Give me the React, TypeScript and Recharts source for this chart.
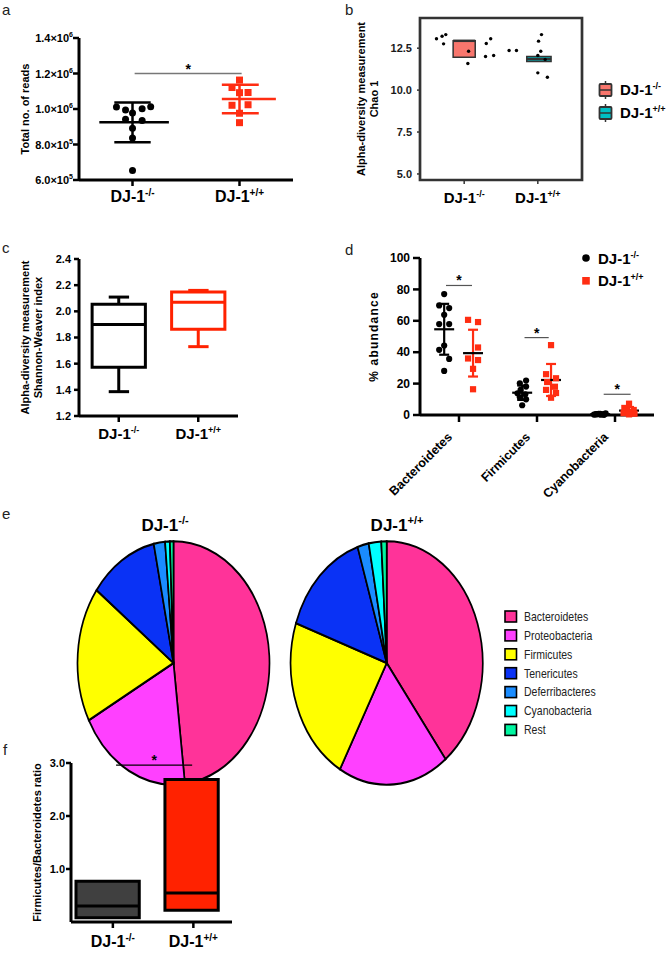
import React from 'react';
import {
  ScatterChart, Scatter, XAxis, YAxis, ReferenceLine, ReferenceArea, PieChart, Pie, Cell, Label,
} from 'recharts';

const FONT = '"Liberation Sans", Arial, Helvetica, sans-serif';
const RED = '#FF2D12';

// ---------- shared categories ----------
const genoPos = [1, 2];
const genoBase = ['DJ-1', 'DJ-1'];
const genoSup = ['-/-', '+/+'];

// ---------- panel a: total reads ----------
const readsKO = [1.011e6, 0.994e6, 0.978e6, 1.002e6, 1.013e6, 0.942e6, 0.935e6, 0.892e6, 0.837e6, 0.654e6];
const readsKOJitter = [-0.15, -0.065, 0, 0.09, 0.17, -0.065, 0.09, 0, 0, 0];
const readsWT = [1.163e6, 1.121e6, 1.092e6, 1.093e6, 1.021e6, 1.024e6, 0.976e6, 0.923e6];
const readsWTJitter = [0, -0.07, 0, 0.08, -0.07, 0.08, 0, 0];
const readsMean = [0.925e6, 1.056e6];
const readsSD = [0.112e6, 0.08e6];
const readsTicks = [6e5, 8e5, 1e6, 1.2e6, 1.4e6];
const readsSig = { x1: 1.02, x2: 2.02, y: 1.2e6 };

// ---------- panel b: Chao1 ----------
const chaoKO = [13.06, 13.21, 13.31, 12.76, 12.32, 11.59, 12.78, 13.06, 12.0, 12.06];
const chaoKOJitter = [-0.376, -0.3, -0.25, -0.28, 0.06, 0.05, 0.3, 0.36, 0.29, 0.4];
const chaoWT = [12.36, 12.36, 12.92, 13.31, 12.32, 12.06, 11.83, 11.03, 10.77];
const chaoWTJitter = [-0.39, -0.29, 0.01, 0.05, 0.04, 0.0, 0.1, 0.0, 0.13];
const chaoQ1 = [11.96, 11.71];
const chaoMedian = [12.94, 11.85];
const chaoQ3 = [12.94, 12.0];
const chaoTicks = [5, 7.5, 10, 12.5];
const chaoColors = ['#F8766D', '#00BFC4'];

// ---------- panel c: Shannon ----------
const shannonMin = [1.386, 1.73];
const shannonQ1 = [1.572, 1.864];
const shannonMedian = [1.9, 2.07];
const shannonQ3 = [2.055, 2.147];
const shannonMax = [2.109, 2.16];
const shannonTicks = [1.2, 1.4, 1.6, 1.8, 2.0, 2.2, 2.4];

// ---------- panel d: % abundance ----------
const phylaPos = [1, 2, 3];
const phylaLabels = ['Bacteroidetes', 'Firmicutes', 'Cyanobacteria'];
const abundKO = [
  [77.0, 69.8, 68.1, 63.8, 57.9, 57.9, 44.2, 41.5, 35.7, 28.1],
  [21.9, 20.2, 18.1, 16.0, 13.8, 13.2, 11.3, 10.0, 6.2],
  [0.3, 0.5, 0.8, 0.2, 0.6, 1.0, 0.4, 0.7, 0.1, 0.5],
];
const abundKOJitter = [
  [0, -0.064, 0.064, 0, -0.064, 0.064, 0, -0.064, 0.064, 0],
  [0.05, -0.03, 0.05, -0.02, -0.06, 0.04, -0.03, 0.05, 0],
  [-0.08, -0.05, -0.02, 0.01, 0.04, 0.07, -0.06, 0.0, 0.05, -0.03],
];
const abundWT = [
  [60.6, 59.2, 43.0, 36.0, 35.0, 29.4, 16.4],
  [44.5, 26.0, 23.4, 21.0, 18.0, 16.0, 14.0, 11.0],
  [7.2, 4.5, 3.2, 2.5, 1.8, 1.2, 0.8, 0.4],
];
const abundWTJitter = [
  [-0.064, 0.064, 0.064, -0.064, 0.064, 0, 0],
  [0, -0.064, 0.064, -0.05, 0.05, -0.064, 0.064, 0],
  [0, -0.06, 0.06, -0.03, 0.03, -0.07, 0.07, 0],
];
const abundMeanKO = [54.6, 14.2, 0.5];
const abundSdKO = [16.2, 4.6, 0.4];
const abundMeanWT = [39.4, 22.3, 2.8];
const abundSdWT = [14.9, 10.2, 2.3];
const abundSig = [
  { x1: 0.833, x2: 1.167, y: 82.5 },
  { x1: 1.84, x2: 2.15, y: 49.3 },
  { x1: 2.855, x2: 3.2, y: 13.2 },
];
const abundTicks = [0, 20, 40, 60, 80, 100];

// ---------- panel e: pies ----------
const pieNames = ['Bacteroidetes', 'Proteobacteria', 'Firmicutes', 'Tenericutes', 'Deferribacteres', 'Cyanobacteria', 'Rest'];
const pieColors = ['#FF3399', '#FF40FF', '#FFFF00', '#0A32F5', '#1A8CFF', '#00FFFF', '#00F5A0'];
const pieKO = [48.1, 19.1, 18.0, 11.5, 1.9, 0.8, 0.6];
const pieWT = [39.5, 18.6, 22.2, 14.8, 1.9, 2.1, 0.9];

// ---------- panel f: F/B ratio ----------
const ratioQ1 = [0.08, 0.22];
const ratioMedian = [0.3, 0.545];
const ratioQ3 = [0.77, 2.69];
const ratioTicks = [1, 2, 3];
const ratioColors = ['#404040', '#FF2200'];
const ratioSig = { x1: 1.04, x2: 1.985, y: 2.96 };

// ---------- helpers ----------
function GenoText({ x, y, i, fs, anchor = 'middle' }: any) {
  return (
    <text x={x} y={y} textAnchor={anchor} fontFamily={FONT} fontWeight="bold" fontSize={fs} fill="#000">
      {genoBase[i]}
      <tspan fontSize={Math.round(fs * 0.62)} dy={-Math.round(fs * 0.4)}>{genoSup[i]}</tspan>
    </text>
  );
}

const genoTick = (fs: number, dy: number) => (props: any) => {
  const i = genoPos.indexOf(props.payload?.value);
  if (i < 0) return <g />;
  return <GenoText x={props.x} y={props.y + dy} i={i} fs={fs} />;
};

const readsTick = (props: any) => {
  const v = props.payload?.value;
  const e = Math.floor(Math.log10(v) + 1e-9);
  const m = (v / Math.pow(10, e)).toFixed(1);
  return (
    <text x={props.x} y={props.y + 4} textAnchor="end" fontFamily={FONT} fontWeight="bold" fontSize={11} fill="#000">
      {m}×10<tspan fontSize={7} dy={-5}>{e}</tspan>
    </text>
  );
};

const phylaTick = (props: any) => {
  const i = phylaPos.indexOf(props.payload?.value);
  if (i < 0) return <g />;
  const x = props.x - 9;
  const y = props.y + 11;
  return (
    <text x={x} y={y} transform={`rotate(-45, ${x}, ${y})`} textAnchor="end" dominantBaseline="central"
      fontFamily={FONT} fontWeight="bold" fontSize={12.5} fill="#000">{phylaLabels[i]}</text>
  );
};

const yTitle = (lines: string[], xs: number[], fs: number, ls = 0) => (props: any) => {
  const vb = props.viewBox || {};
  const bx = vb.x ?? 0;
  const by = vb.y ?? 0;
  const bh = vb.height ?? 0;
  const cy = by + bh / 2;
  return (
    <g>
      {lines.map((t, k) => {
        const x = bx + xs[k];
        return (
          <text key={k} x={x} y={cy} transform={`rotate(-90, ${x}, ${cy})`} textAnchor="middle" dominantBaseline="central"
            fontFamily={FONT} fontWeight="bold" fontSize={fs} letterSpacing={ls} fill="#000">{t}</text>
        );
      })}
    </g>
  );
};

const dot = (r: number, fill: string) => (p: any) => <circle cx={p.cx} cy={p.cy} r={r} fill={fill} />;
const sq = (s: number, fill: string) => (p: any) => <rect x={p.cx - s / 2} y={p.cy - s / 2} width={s} height={s} fill={fill} />;
const starShape = (fs: number) => (p: any) => (
  <text x={p.cx} y={p.cy} textAnchor="middle" fontFamily={FONT} fontWeight="bold" fontSize={fs} fill="#000">*</text>
);
const none = () => <g />;

function seg(key: string, x1: number, y1: number, x2: number, y2: number, stroke: string, sw: number) {
  return (
    <ReferenceLine key={key} segment={[{ x: x1, y: y1 }, { x: x2, y: y2 }]} stroke={stroke} strokeWidth={sw} ifOverflow="visible" />
  );
}

function meanSd(key: string, cx: number, mean: number, sd: number, meanSpan: number[], capSpan: number[],
  color: string, meanColor: string, sw: number) {
  return [
    seg(key + 'v', cx, mean - sd, cx, mean + sd, color, sw),
    seg(key + 't', cx + capSpan[0], mean + sd, cx + capSpan[1], mean + sd, color, sw),
    seg(key + 'b', cx + capSpan[0], mean - sd, cx + capSpan[1], mean - sd, color, sw),
    seg(key + 'm', cx + meanSpan[0], mean, cx + meanSpan[1], mean, meanColor, sw),
  ];
}

const axisStyle = { stroke: '#000', strokeWidth: 3 };
const tickLineStyle = { stroke: '#000', strokeWidth: 2.5 };

// ---------- panels ----------
function PanelA() {
  const ko = readsKO.map((v, i) => ({ x: genoPos[0] + readsKOJitter[i], y: v }));
  const wt = readsWT.map((v, i) => ({ x: genoPos[1] + readsWTJitter[i], y: v }));
  const star = [{ x: (readsSig.x1 + readsSig.x2) / 2, y: readsSig.y }];
  return (
    <ScatterChart width={334} height={220} margin={{ top: 38, right: 41, bottom: 0, left: 0 }}>
      <XAxis type="number" dataKey="x" domain={[0.5, 2.5]} ticks={genoPos} interval={0} height={40}
        axisLine={axisStyle} tickLine={tickLineStyle} tickSize={6} tick={genoTick(16, 14)} />
      <YAxis type="number" dataKey="y" domain={[6e5, 1.4e6]} ticks={readsTicks} interval={0} width={79}
        axisLine={axisStyle} tickLine={tickLineStyle} tickSize={6} tickMargin={0} tick={readsTick}>
        <Label content={yTitle(['Total no. of reads'], [25], 11)} />
      </YAxis>
      {seg('asig', readsSig.x1, readsSig.y, readsSig.x2, readsSig.y, '#777', 1.5)}
      <Scatter data={ko} shape={dot(3.5, '#000')} isAnimationActive={false} />
      <Scatter data={wt} shape={sq(7, RED)} isAnimationActive={false} />
      {meanSd('ako', genoPos[0], readsMean[0], readsSD[0], [-0.31, 0.34], [-0.17, 0.17], '#000', '#000', 2.5)}
      {meanSd('awt', genoPos[1], readsMean[1], readsSD[1], [-0.165, 0.34], [-0.165, 0.18], RED, RED, 2.5)}
      <Scatter data={star} shape={starShape(14)} isAnimationActive={false} />
    </ScatterChart>
  );
}

function PanelB() {
  const ko = chaoKO.map((v, i) => ({ x: genoPos[0] + chaoKOJitter[i], y: v }));
  const wt = chaoWT.map((v, i) => ({ x: genoPos[1] + chaoWTJitter[i], y: v }));
  const spans = [[-0.15, 0.15], [-0.15, 0.18]];
  return (
    <ScatterChart width={334} height={220} margin={{ top: 18, right: 86, bottom: 0, left: 0 }}>
      <XAxis type="number" dataKey="x" domain={[0.4, 2.6]} ticks={genoPos} interval={0} height={40}
        axisLine={false} tickLine={{ stroke: '#333', strokeWidth: 1.5 }} tickSize={4} tick={genoTick(15, 17)} />
      <YAxis type="number" dataKey="y" domain={[4.64, 14.3]} ticks={chaoTicks} interval={0} width={86}
        axisLine={false} tickLine={{ stroke: '#333', strokeWidth: 1.5 }} tickSize={3} tickMargin={5}
        tickFormatter={(v: number) => v.toFixed(1)}
        tick={{ fill: '#1a1a1a', fontSize: 11, fontWeight: 'bold', fontFamily: FONT }}>
        <Label content={yTitle(['Alpha-diversity measurement', 'Chao 1'], [27, 39.5], 11)} />
      </YAxis>
      {genoPos.map((p, i) => (
        <ReferenceArea key={'bb' + i} x1={p + spans[i][0]} x2={p + spans[i][1]} y1={chaoQ1[i]} y2={chaoQ3[i]}
          fill={chaoColors[i]} fillOpacity={1} stroke="#333" strokeWidth={1.5} ifOverflow="visible" />
      ))}
      {genoPos.map((p, i) => seg('bm' + i, p + spans[i][0], chaoMedian[i], p + spans[i][1], chaoMedian[i], '#333', 2.5))}
      <Scatter data={ko} shape={dot(1.7, '#000')} isAnimationActive={false} />
      <Scatter data={wt} shape={dot(1.7, '#000')} isAnimationActive={false} />
      <ReferenceArea x1={0.4} x2={2.6} y1={4.64} y2={14.3} fill="none" stroke="#333" strokeWidth={2.7} ifOverflow="visible" />
    </ScatterChart>
  );
}

function PanelC() {
  const colors = ['#000', '#FF2200'];
  const span = [-0.335, 0.335];
  const cap = [-0.126, 0.13];
  const med = genoPos.map((p, i) => ({ x: p, y: shannonMedian[i] }));
  return (
    <ScatterChart width={334} height={220} margin={{ top: 19, right: 96, bottom: 0, left: 0 }}>
      <XAxis type="number" dataKey="x" domain={[0.5, 2.5]} ticks={genoPos} interval={0} height={44}
        axisLine={axisStyle} tickLine={tickLineStyle} tickSize={6} tick={genoTick(15, 14.5)} />
      <YAxis type="number" dataKey="y" domain={[1.2, 2.4]} ticks={shannonTicks} interval={0} width={79}
        axisLine={axisStyle} tickLine={tickLineStyle} tickSize={5} tickMargin={3}
        tickFormatter={(v: number) => v.toFixed(1)}
        tick={{ fill: '#000', fontSize: 11, fontWeight: 'bold', fontFamily: FONT }}>
        <Label content={yTitle(['Alpha-diversity measurement', 'Shannon-Weaver index'], [25, 37.5], 11)} />
      </YAxis>
      {genoPos.map((p, i) => (
        <ReferenceArea key={'cb' + i} x1={p + span[0]} x2={p + span[1]} y1={shannonQ1[i]} y2={shannonQ3[i]}
          fill="#fff" fillOpacity={1} stroke={colors[i]} strokeWidth={3} ifOverflow="visible" />
      ))}
      {genoPos.map((p, i) => [
        seg('cm' + i, p + span[0], shannonMedian[i], p + span[1], shannonMedian[i], colors[i], 3),
        seg('cu' + i, p, shannonQ3[i], p, shannonMax[i], colors[i], 3),
        seg('cuc' + i, p + cap[0], shannonMax[i], p + cap[1], shannonMax[i], colors[i], 3),
        seg('cl' + i, p, shannonQ1[i], p, shannonMin[i], colors[i], 3),
        seg('clc' + i, p + cap[0], shannonMin[i], p + cap[1], shannonMin[i], colors[i], 3),
      ])}
      <Scatter data={med} shape={none} isAnimationActive={false} />
    </ScatterChart>
  );
}

function PanelD() {
  const off = [-0.19, 0.18];
  const ko = abundKO.flatMap((arr, c) => arr.map((v, i) => ({ x: phylaPos[c] + off[0] + abundKOJitter[c][i], y: v })));
  const wt = abundWT.flatMap((arr, c) => arr.map((v, i) => ({ x: phylaPos[c] + off[1] + abundWTJitter[c][i], y: v })));
  const stars = abundSig.map((s) => ({ x: (s.x1 + s.x2) / 2, y: s.y }));
  return (
    <ScatterChart width={334} height={260} margin={{ top: 18, right: 14, bottom: 0, left: 0 }}>
      <XAxis type="number" dataKey="x" domain={[0.5, 3.5]} ticks={phylaPos} interval={0} height={85}
        axisLine={axisStyle} tickLine={tickLineStyle} tickSize={7} tick={phylaTick} />
      <YAxis type="number" dataKey="y" domain={[0, 100]} ticks={abundTicks} interval={0} width={86}
        axisLine={axisStyle} tickLine={tickLineStyle} tickSize={7} tickMargin={3}
        tick={{ fill: '#000', fontSize: 12, fontWeight: 'bold', fontFamily: FONT }}>
        <Label content={yTitle(['% abundance'], [40], 12, 1.2)} />
      </YAxis>
      {abundSig.map((s, c) => seg('dsig' + c, s.x1, s.y, s.x2, s.y, '#555', 1.2))}
      <Scatter data={ko} shape={dot(3.1, '#000')} isAnimationActive={false} />
      <Scatter data={wt} shape={sq(6.2, RED)} isAnimationActive={false} />
      {phylaPos.map((p, c) => meanSd('dko' + c, p + off[0], abundMeanKO[c], abundSdKO[c], [-0.128, 0.128], [-0.064, 0.064], '#000', '#000', 2.2))}
      {phylaPos.map((p, c) => meanSd('dwt' + c, p + off[1], abundMeanWT[c], abundSdWT[c], [-0.128, 0.128], [-0.064, 0.064], RED, '#000', 2.2))}
      <Scatter data={stars} shape={starShape(14)} isAnimationActive={false} />
    </ScatterChart>
  );
}

function PanelE() {
  const ko = pieKO.map((v, i) => ({ name: pieNames[i], value: v }));
  const wt = pieWT.map((v, i) => ({ name: pieNames[i], value: v }));
  return (
    <PieChart width={500} height={260} margin={{ top: 0, right: 0, bottom: 0, left: 0 }}>
      <Pie data={ko} dataKey="value" nameKey="name" cx={173.5} cy={130} outerRadius={96} startAngle={90} endAngle={-270}
        stroke="#000" strokeWidth={1.7} isAnimationActive={false}>
        {ko.map((d, i) => <Cell key={i} fill={pieColors[i]} stroke="#000" />)}
      </Pie>
      <Pie data={wt} dataKey="value" nameKey="name" cx={386.7} cy={130} outerRadius={96} startAngle={90} endAngle={-270}
        stroke="#000" strokeWidth={1.7} isAnimationActive={false}>
        {wt.map((d, i) => <Cell key={i} fill={pieColors[i]} stroke="#000" />)}
      </Pie>
    </PieChart>
  );
}

function PanelF() {
  const xs = [[0.542, 1.328], [1.647, 2.309]];
  const star = [{ x: (ratioSig.x1 + ratioSig.x2) / 2, y: ratioSig.y }];
  return (
    <ScatterChart width={334} height={213} margin={{ top: 23, right: 102, bottom: 0, left: 0 }}>
      <XAxis type="number" dataKey="x" domain={[0.48, 2.48]} ticks={genoPos} interval={0} height={31}
        axisLine={axisStyle} tickLine={tickLineStyle} tickSize={6} tick={genoTick(16, 16.5)} />
      <YAxis type="number" dataKey="y" domain={[0, 3]} ticks={ratioTicks} interval={0} width={71}
        axisLine={axisStyle} tickLine={tickLineStyle} tickSize={5} tickMargin={1}
        tickFormatter={(v: number) => v.toFixed(1)}
        tick={{ fill: '#000', fontSize: 11, fontWeight: 'bold', fontFamily: FONT }}>
        <Label content={yTitle(['Firmicutes/Bacteroidetes ratio'], [37], 11)} />
      </YAxis>
      {genoPos.map((p, i) => (
        <ReferenceArea key={'fb' + i} x1={xs[i][0]} x2={xs[i][1]} y1={ratioQ1[i]} y2={ratioQ3[i]}
          fill={ratioColors[i]} fillOpacity={1} stroke="#000" strokeWidth={3} ifOverflow="visible" />
      ))}
      {genoPos.map((p, i) => seg('fm' + i, xs[i][0], ratioMedian[i], xs[i][1], ratioMedian[i], '#000', 3))}
      {seg('fsig', ratioSig.x1, ratioSig.y, ratioSig.x2, ratioSig.y, '#000', 1.2)}
      <Scatter data={star} shape={starShape(14)} isAnimationActive={false} />
    </ScatterChart>
  );
}

const panelLetters = ['a', 'b', 'c', 'd', 'e', 'f'];
const letterPos = [[2, 15], [345, 15], [2, 253], [345, 255], [2, 519], [3, 755]];

function Overlay() {
  return (
    <svg width={668} height={953} style={{ position: 'absolute', left: 0, top: 0, pointerEvents: 'none' }}>
      {panelLetters.map((l, i) => (
        <text key={l} x={letterPos[i][0]} y={letterPos[i][1]} fontFamily={FONT} fontSize={15} fill="#222">{l}</text>
      ))}
      {/* legend b */}
      {genoPos.map((p, i) => {
        const yc = [90, 113][i];
        return (
          <g key={'lb' + i}>
            <line x1={605.5} x2={605.5} y1={yc - 9} y2={yc - 6} stroke="#333" strokeWidth={1.5} />
            <line x1={605.5} x2={605.5} y1={yc + 6} y2={yc + 9} stroke="#333" strokeWidth={1.5} />
            <rect x={599.5} y={yc - 6} width={12} height={12} rx={1} fill={chaoColors[i]} stroke="#333" strokeWidth={1.8} />
            <line x1={599.5} x2={611.5} y1={yc} y2={yc} stroke="#333" strokeWidth={1.5} />
            <GenoText x={620} y={yc + 5} i={i} fs={15} anchor="start" />
          </g>
        );
      })}
      {/* legend d */}
      <circle cx={586} cy={258} r={3.8} fill="#000" />
      <GenoText x={598} y={263.5} i={0} fs={15} anchor="start" />
      <rect x={582.2} y={277} width={7.6} height={7.6} fill={RED} />
      <GenoText x={598} y={286} i={1} fs={15} anchor="start" />
      {/* pie titles */}
      <GenoText x={165} y={531} i={0} fs={17} />
      <GenoText x={397} y={531} i={1} fs={17} />
      {/* pie legend */}
      {pieNames.map((n, i) => {
        const yc = 616.5 + i * 18.9;
        return (
          <g key={n}>
            <rect x={505} y={yc - 5.5} width={11.5} height={11} fill={pieColors[i]} stroke="#000" strokeWidth={1.6} />
            <text transform={`translate(524, ${yc + 4.3}) scale(0.84, 1)`} x={0} y={0} fontFamily={FONT} fontSize={12.5} fill="#222">{n}</text>
          </g>
        );
      })}
    </svg>
  );
}

export default function App() {
  return (
    <div style={{ position: 'absolute', left: 0, top: 0, width: 668, height: 953, background: '#fff', fontFamily: FONT, overflow: 'hidden' }}>
      <div style={{ position: 'absolute', left: 0, top: 0 }}><PanelA /></div>
      <div style={{ position: 'absolute', left: 334, top: 0 }}><PanelB /></div>
      <div style={{ position: 'absolute', left: 0, top: 240 }}><PanelC /></div>
      <div style={{ position: 'absolute', left: 334, top: 240 }}><PanelD /></div>
      <div style={{ position: 'absolute', left: 0, top: 533, width: 500, height: 260, transform: 'scaleY(1.268)', transformOrigin: '0px 130px' }}>
        <PanelE />
      </div>
      <div style={{ position: 'absolute', left: 0, top: 740 }}><PanelF /></div>
      <Overlay />
    </div>
  );
}
